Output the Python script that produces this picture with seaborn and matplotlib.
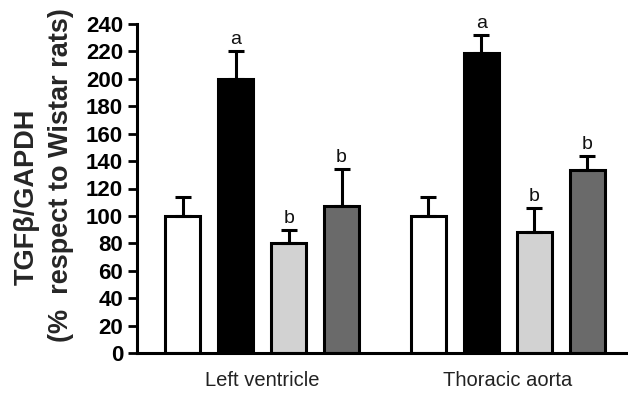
import matplotlib
matplotlib.use("Agg")
import matplotlib.pyplot as plt
import seaborn as sns
import pandas as pd

# ---- data ----
tissues = ["Left ventricle", "Thoracic aorta"]
groups = ["Group 1", "Group 2", "Group 3", "Group 4"]
lv_values = [100, 200, 80, 107]
lv_errors = [14, 20, 9.5, 27]
ta_values = [100, 219, 88, 133.5]
ta_errors = [14, 13, 18, 10]
lv_letters = ["", "a", "b", "b"]
ta_letters = ["", "a", "b", "b"]
yticks = list(range(0, 241, 20))
colors = ["#ffffff", "#000000", "#d2d2d2", "#6a6a6a"]

sns.set_style("ticks")
plt.rcParams["font.family"] = ["Liberation Sans", "DejaVu Sans"]

rows = []
for t, vals, errs, lets in [(tissues[0], lv_values, lv_errors, lv_letters),
                            (tissues[1], ta_values, ta_errors, ta_letters)]:
    for g, v, e, l in zip(groups, vals, errs, lets):
        rows.append({"tissue": t, "group": g, "value": v, "err": e, "letter": l})
df = pd.DataFrame(rows)

fig = plt.figure(figsize=(6.28, 3.94), dpi=100)
ax = fig.add_axes([137 / 628, 1 - 353 / 394, (628 - 137) / 628, (353 - 24) / 394])

sns.barplot(data=df, x="tissue", y="value", hue="group", order=tissues,
            hue_order=groups, palette=colors, edgecolor="black", linewidth=2.2,
            width=0.862, gap=0.34, errorbar=None, legend=False, saturation=1, ax=ax)

bar_containers = list(ax.containers)
for gi, cont in enumerate(bar_containers):
    for ti, bar in enumerate(cont):
        sub = df[(df.group == groups[gi]) & (df.tissue == tissues[ti])].iloc[0]
        x = bar.get_x() + bar.get_width() / 2
        h = bar.get_height()
        ax.errorbar([x], [h], yerr=[[0], [sub.err]], fmt="none", ecolor="black",
                    elinewidth=2.2, capsize=6, capthick=2.2, zorder=1)
        if sub.letter:
            ax.annotate(sub.letter, (x, h + sub.err), xytext=(0, 5),
                        textcoords="offset points", ha="center", va="baseline",
                        fontsize=14, color="#111111")

ax.set_ylim(0, 240)
ax.set_xlim(-0.51, 1.49)
ax.set_yticks(yticks)
ax.set_yticklabels([str(v) for v in yticks], fontsize=16, fontweight="bold")
ax.set_xticks([0, 1])
ax.set_xticklabels(tissues, fontsize=14.5)
ax.tick_params(axis="y", length=6.5, width=2, pad=3.5, colors="black")
ax.tick_params(axis="x", length=0, pad=13)
for lab in ax.get_xticklabels():
    lab.set_color("#222222")
ax.set_xlabel("")
ax.set_ylabel("")
for s in ["top", "right"]:
    ax.spines[s].set_visible(False)
for s in ["left", "bottom"]:
    ax.spines[s].set_linewidth(2.2)
    ax.spines[s].set_color("black")

fig.text(27 / 628, 1 - 197 / 394, "TGF\u03b2/GAPDH", rotation=90, ha="center",
         va="center", fontsize=19.5, fontweight="bold")
fig.text(61 / 628, 1 - 175 / 394, "(%  respect to Wistar rats)", rotation=90,
         ha="center", va="center", fontsize=19.5, fontweight="bold")

fig.savefig("out.png", dpi=100, facecolor="white")
